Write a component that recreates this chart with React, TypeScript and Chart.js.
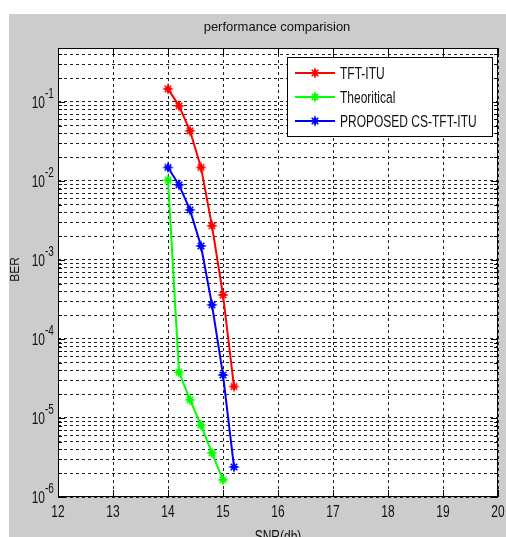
import React, { useEffect, useRef } from "react";
import { Chart, registerables } from "chart.js";

Chart.register(...registerables);

// ---- data ----
const snrTft = [14, 14.2, 14.4, 14.6, 14.8, 15, 15.2];
const berTft = [0.146, 0.089, 0.043, 0.0148, 0.0027, 3.6e-4, 2.5e-5];

const snrTheory = [14, 14.2, 14.4, 14.6, 14.8, 15];
const berTheory = [0.0102, 3.8e-5, 1.7e-5, 8.1e-6, 3.6e-6, 1.65e-6];

const snrProposed = [14, 14.2, 14.4, 14.6, 14.8, 15, 15.2];
const berProposed = [0.0148, 0.0089, 0.0043, 0.0015, 2.7e-4, 3.5e-5, 2.4e-6];

const seriesNames = ["TFT-ITU", "Theoritical", "PROPOSED CS-TFT-ITU"];
const seriesColors = ["#ff0000", "#00ff00", "#0000ff"];

const xTickValues = [12, 13, 14, 15, 16, 17, 18, 19, 20];
const yDecades = [-6, -5, -4, -3, -2, -1];
const yMin = 1e-6;
const yMax = 0.48;

const titleText = "performance comparision";
const xTitle = "SNR(db)";
const yTitle = "BER";

const FONT = '"Liberation Sans", Arial, Helvetica, sans-serif';
const TEXT_COLOR = "#111111";

function yGridValues(): number[] {
  const vals: number[] = [];
  for (const d of yDecades) {
    for (let k = 1; k <= 9; k++) {
      const v = k * Math.pow(10, d);
      if (v <= yMax * 1.0001) vals.push(v);
    }
  }
  return vals;
}

function drawStarPath(ctx: CanvasRenderingContext2D, cx: number, cy: number, r: number) {
  const inner = r * 0.38;
  ctx.beginPath();
  for (let i = 0; i < 8; i++) {
    const a = (i * Math.PI) / 4 - Math.PI / 2;
    const rr = i % 2 === 0 ? r : inner;
    const px = cx + rr * Math.cos(a);
    const py = cy + rr * Math.sin(a);
    if (i === 0) ctx.moveTo(px, py);
    else ctx.lineTo(px, py);
  }
  ctx.closePath();
}

function drawMarker(ctx: CanvasRenderingContext2D, cx: number, cy: number, color: string) {
  ctx.save();
  ctx.fillStyle = color;
  ctx.strokeStyle = color;
  drawStarPath(ctx, cx, cy, 6);
  ctx.fill();
  ctx.lineWidth = 1.6;
  const q = 3.3;
  ctx.beginPath();
  ctx.moveTo(cx - q, cy - q);
  ctx.lineTo(cx + q, cy + q);
  ctx.moveTo(cx - q, cy + q);
  ctx.lineTo(cx + q, cy - q);
  ctx.stroke();
  ctx.restore();
}

function makeMarkerImage(color: string): HTMLCanvasElement {
  const c = document.createElement("canvas");
  c.width = 14;
  c.height = 14;
  const cctx = c.getContext("2d");
  if (cctx) drawMarker(cctx, 7, 7, color);
  return c;
}

function drawText(
  ctx: CanvasRenderingContext2D,
  text: string,
  x: number,
  y: number,
  size: number,
  sy: number,
  align: CanvasTextAlign,
  baseline: CanvasTextBaseline,
  rotate = 0
) {
  ctx.save();
  ctx.translate(x, y);
  if (rotate) ctx.rotate(rotate);
  ctx.scale(1, sy);
  ctx.font = `${size}px ${FONT}`;
  ctx.fillStyle = TEXT_COLOR;
  ctx.textAlign = align;
  ctx.textBaseline = baseline;
  ctx.fillText(text, 0, 0);
  ctx.restore();
}

const matlabPlugin = {
  id: "matlabLook",
  beforeDraw(chart: any) {
    const { ctx, width, height, chartArea } = chart;
    ctx.save();
    ctx.fillStyle = "#ffffff";
    ctx.fillRect(0, 0, width, height);
    ctx.fillStyle = "#cccccc";
    ctx.fillRect(9, 14, width - 9, height - 14);
    ctx.fillStyle = "#ffffff";
    ctx.fillRect(
      chartArea.left,
      chartArea.top,
      chartArea.right - chartArea.left,
      chartArea.bottom - chartArea.top
    );
    ctx.restore();
  },
  afterDraw(chart: any) {
    const { ctx, chartArea } = chart;
    const xs = chart.scales.x;
    const ys = chart.scales.y;
    const { left, right, top, bottom } = chartArea;

    ctx.save();
    // inward tick marks
    ctx.strokeStyle = "#000000";
    ctx.lineWidth = 1;
    ctx.beginPath();
    for (const v of xTickValues) {
      const px = Math.round(xs.getPixelForValue(v)) + 0.5;
      ctx.moveTo(px, bottom);
      ctx.lineTo(px, bottom - 7);
      ctx.moveTo(px, top);
      ctx.lineTo(px, top + 7);
    }
    for (const v of yGridValues()) {
      const py = Math.round(ys.getPixelForValue(v)) + 0.5;
      const major = Math.abs(Math.log10(v) - Math.round(Math.log10(v))) < 1e-9;
      const len = major ? 7 : 4;
      ctx.moveTo(left, py);
      ctx.lineTo(left + len, py);
      ctx.moveTo(right, py);
      ctx.lineTo(right - len, py);
    }
    ctx.stroke();

    // axes box
    ctx.strokeStyle = "#000000";
    ctx.lineWidth = 1;
    ctx.strokeRect(left + 0.5, top + 0.5, right - left - 1, bottom - top - 1);

    // x tick labels
    for (const v of xTickValues) {
      const px = xs.getPixelForValue(v);
      drawText(ctx, String(v), px, bottom + 15, 12, 1.45, "center", "middle");
    }
    // y tick labels (10 with superscript exponent)
    for (const d of yDecades) {
      const py = ys.getPixelForValue(Math.pow(10, d));
      drawText(ctx, "10", left - 13, py + 1, 12, 1.45, "right", "middle");
      drawText(ctx, String(d), left - 13, py - 4, 10, 1.4, "left", "alphabetic");
    }

    // axis titles
    drawText(ctx, xTitle, (left + right) / 2, bottom + 31, 12, 1.45, "center", "top");
    drawText(ctx, yTitle, 16, (top + bottom) / 2 - 3, 12, 1.0, "center", "middle", -Math.PI / 2);

    // title
    drawText(ctx, titleText, 277, 27, 13, 1.05, "center", "middle");

    // legend
    const lx = 287;
    const ly = 57;
    const lw = 206;
    const lh = 80;
    ctx.fillStyle = "#ffffff";
    ctx.fillRect(lx, ly, lw, lh);
    ctx.strokeStyle = "#000000";
    ctx.lineWidth = 1;
    ctx.strokeRect(lx + 0.5, ly + 0.5, lw - 1, lh - 1);
    chart.data.datasets.forEach((ds: any, i: number) => {
      const ry = ly + 16 + i * 24;
      ctx.strokeStyle = ds.borderColor;
      ctx.lineWidth = 2;
      ctx.beginPath();
      ctx.moveTo(lx + 8, ry);
      ctx.lineTo(lx + 48, ry);
      ctx.stroke();
      drawMarker(ctx, lx + 28, ry, ds.borderColor);
      drawText(ctx, ds.label, lx + 53, ry + 1, 12, 1.45, "left", "middle");
    });
    ctx.restore();
  },
};

function toPoints(xv: number[], yv: number[]) {
  return xv.map((x, i) => ({ x, y: yv[i] }));
}

export default function App() {
  const canvasRef = useRef<HTMLCanvasElement | null>(null);

  useEffect(() => {
    const canvas = canvasRef.current;
    if (!canvas) return;
    const seriesX = [snrTft, snrTheory, snrProposed];
    const seriesY = [berTft, berTheory, berProposed];
    const chart = new Chart(canvas, {
      type: "line",
      data: {
        datasets: seriesNames.map((name, i) => ({
          label: name,
          data: toPoints(seriesX[i], seriesY[i]),
          borderColor: seriesColors[i],
          backgroundColor: seriesColors[i],
          borderWidth: 2,
          pointStyle: makeMarkerImage(seriesColors[i]) as any,
          pointRadius: 6,
          fill: false,
          tension: 0,
        })),
      },
      options: {
        responsive: false,
        animation: false,
        events: [],
        layout: { padding: { left: 58, top: 48, right: 6, bottom: 40 } },
        plugins: {
          legend: { display: false },
          title: { display: false },
          tooltip: { enabled: false },
        },
        scales: {
          x: {
            type: "linear",
            min: 12,
            max: 20,
            afterBuildTicks: (scale: any) => {
              scale.ticks = xTickValues.map((v) => ({ value: v }));
            },
            ticks: { display: false },
            grid: {
              display: true,
              drawTicks: false,
              color: "#222222",
              lineWidth: 1,
            },
            border: { display: false, dash: [3, 3] },
          },
          y: {
            type: "logarithmic",
            min: yMin,
            max: yMax,
            afterBuildTicks: (scale: any) => {
              scale.ticks = yGridValues().map((v) => ({ value: v }));
            },
            ticks: { display: false },
            grid: {
              display: true,
              drawTicks: false,
              color: "#222222",
              lineWidth: 1,
            },
            border: { display: false, dash: [3, 3] },
          },
        },
      },
      plugins: [matlabPlugin],
    });
    return () => chart.destroy();
  }, []);

  return (
    <canvas
      ref={canvasRef}
      width={506}
      height={537}
      style={{ position: "absolute", left: 0, top: 0, width: 506, height: 537 }}
    />
  );
}
